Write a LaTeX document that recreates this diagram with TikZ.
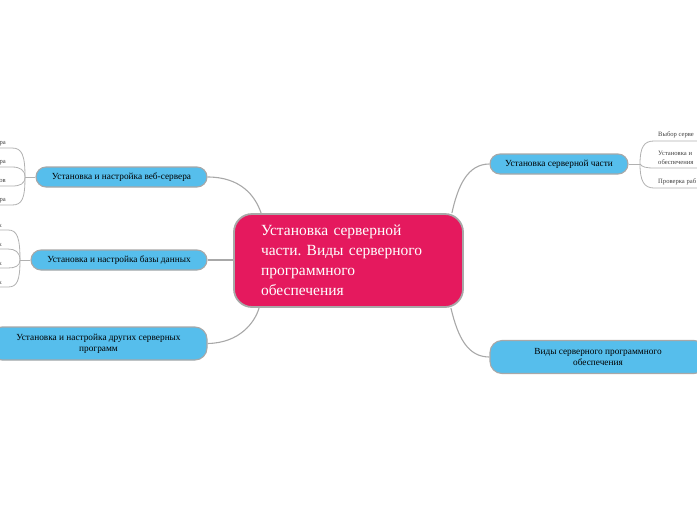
\documentclass[tikz,border=0pt]{standalone}
\usepackage{fontspec}
\setmainfont{Liberation Serif}
\frenchspacing
\definecolor{pinkc}{RGB}{229,25,94}
\definecolor{bluec}{RGB}{86,190,236}
\definecolor{edgec}{RGB}{168,168,168}
\begin{document}
\begin{tikzpicture}[x=1pt,y=-1pt,
  mainbox/.style={draw=edgec, line width=1.8pt, fill=pinkc, rounded corners=18pt,
    minimum width=229pt, minimum height=93pt, text=white, inner sep=0pt,
    font=\fontsize{15.5}{20}\selectfont, align=left, text width=175pt},
  topic/.style={draw=edgec, line width=1.1pt, fill=bluec, rounded corners=10pt,
    inner sep=0pt, minimum height=20pt, font=\fontsize{9.3}{11}\selectfont, align=center},
  topic2/.style={topic, rounded corners=12pt, minimum height=33pt},
  leaf/.style={inner sep=0pt, text=black!75, font=\fontsize{6.6}{9}\selectfont, align=left},
  conn/.style={draw=edgec, line width=1.1pt},
  leafline/.style={draw=edgec!90, line width=0.8pt}]
\useasboundingbox (0,0) rectangle (697,520);

% central
\node[mainbox] (main) at (348.5,260.5) {Установка серверной\\части. Виды серверного\\программного\\обеспечения};

% topics
\node[topic, minimum width=171pt] (web) at (121.5,177) {Установка и настройка веб-сервера};
\node[topic, minimum width=176pt] (db) at (119,260) {Установка и настройка базы данных};
\node[topic2, minimum width=217pt] (oth) at (98.5,343.5) {Установка и настройка других серверных\\программ};
\node[topic, minimum width=138pt] (srv) at (559,164) {Установка серверной части};
\node[topic2, minimum width=216pt] (kinds) at (598,357) {Виды серверного программного\\обеспечения};

% main connectors
\draw[conn] (web.east) .. controls (240,177) and (255,195) .. ([xshift=28pt]main.north west);
\draw[conn] (db.east) -- (main.west |- db.east);
\draw[conn] (oth.east) .. controls (240,343) and (255,322) .. ([xshift=26pt]main.south west);
\draw[conn] ([xshift=-12pt]main.north east) .. controls (458,185) and (468,164) .. (srv.west);
\draw[conn] ([xshift=-13pt]main.south east) .. controls (458,338) and (468,357) .. (kinds.west);

% web leaves
\coordinate (jw) at (25,177);
\draw[leafline] (web.west) -- (jw);
\node[leaf, anchor=base east] (w1) at (6,144) {ра};
\node[leaf, anchor=base east] (w2) at (6,163) {ра};
\node[leaf, anchor=base east] (w3) at (6,182) {ов};
\node[leaf, anchor=base east] (w4) at (6,201) {ра};
\coordinate (w1e) at (0,148);
\coordinate (w2e) at (0,167);
\coordinate (w3e) at (0,186);
\coordinate (w4e) at (0,205);
\draw[leafline] (jw) .. controls (25,155) and (22,148) .. (12,148) -- (w1e);
\draw[leafline] (jw) .. controls (25,170) and (20,167) .. (12,167) -- (w2e);
\draw[leafline] (jw) .. controls (25,184) and (20,186) .. (12,186) -- (w3e);
\draw[leafline] (jw) .. controls (25,199) and (22,205) .. (12,205) -- (w4e);

% db leaves
\coordinate (jd) at (20,260);
\draw[leafline] (db.west) -- (jd);
\node[leaf, anchor=base east] (d1) at (2,227) {х};
\node[leaf, anchor=base east] (d2) at (2,246) {х};
\node[leaf, anchor=base east] (d3) at (2,265) {х};
\node[leaf, anchor=base east] (d4) at (2,284) {х};
\coordinate (d1e) at (0,230);
\coordinate (d2e) at (0,249);
\coordinate (d3e) at (0,268);
\coordinate (d4e) at (0,287);
\draw[leafline] (jd) .. controls (20,237) and (17,230) .. (8,230) -- (d1e);
\draw[leafline] (jd) .. controls (20,252) and (15,249) .. (8,249) -- (d2e);
\draw[leafline] (jd) .. controls (20,266) and (15,268) .. (8,268) -- (d3e);
\draw[leafline] (jd) .. controls (20,281) and (17,287) .. (8,287) -- (d4e);

% right leaves
\coordinate (jr) at (640,164);
\draw[leafline] (srv.east) -- (jr);
\node[leaf, anchor=base west] (r1) at (658,136) {Выбор серве};
\node[leaf, anchor=base west] (r2) at (658,164) {Установка и\\обеспечения};
\node[leaf, anchor=base west] (r3) at (658,183.5) {Проверка раб};
\coordinate (r1e) at (697,141);
\coordinate (r2e) at (697,168);
\coordinate (r3e) at (697,188);
\draw[leafline] (jr) .. controls (640,147) and (644,141) .. (654,141) -- (r1e);
\draw[leafline] (jr) .. controls (642,167) and (646,168) .. (654,168) -- (r2e);
\draw[leafline] (jr) .. controls (640,181) and (644,188) .. (654,188) -- (r3e);
\end{tikzpicture}
\end{document}
